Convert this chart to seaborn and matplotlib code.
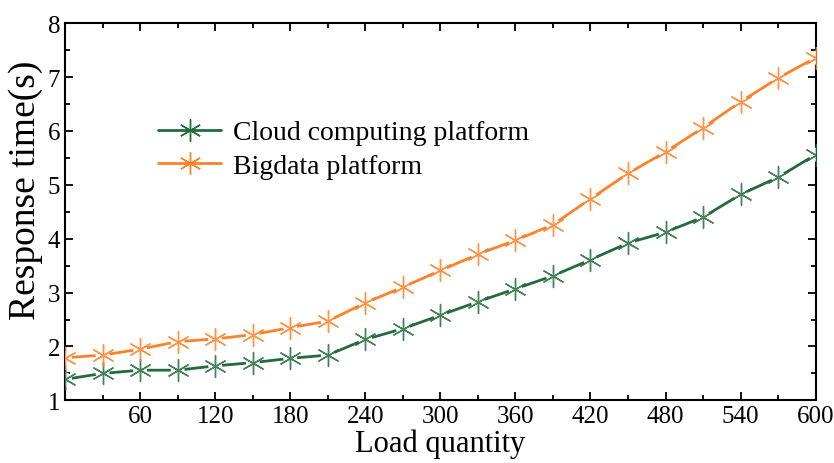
import numpy as np
import pandas as pd
import matplotlib
matplotlib.use("Agg")
import matplotlib.pyplot as plt
from matplotlib.lines import Line2D
import seaborn as sns

load = [0, 30, 60, 90, 120, 150, 180, 210, 240, 270, 300,
        330, 360, 390, 420, 450, 480, 510, 540, 570, 600]
cloud = [1.39, 1.50, 1.56, 1.56, 1.64, 1.70, 1.78, 1.84, 2.13, 2.33, 2.58,
         2.83, 3.07, 3.31, 3.61, 3.92, 4.12, 4.40, 4.82, 5.14, 5.56]
bigdata = [1.79, 1.84, 1.95, 2.09, 2.14, 2.22, 2.35, 2.47, 2.81, 3.10, 3.41,
           3.71, 3.97, 4.26, 4.74, 5.21, 5.61, 6.06, 6.54, 6.98, 7.36]
names = ["Cloud computing platform", "Bigdata platform"]
colors = ["#236b3c", "#ff8128"]

sns.set_theme(style="ticks")
plt.rcParams["font.family"] = ["Liberation Serif", "DejaVu Serif"]
plt.rcParams["text.color"] = "black"
plt.rcParams["axes.labelcolor"] = "black"
plt.rcParams["xtick.color"] = "black"
plt.rcParams["ytick.color"] = "black"

fig, ax = plt.subplots(figsize=(8.34, 4.64), dpi=100)
fig.subplots_adjust(left=0.078, right=0.978, top=0.948, bottom=0.135)

star = (6, 2, 0)
for vals, col in zip([cloud, bigdata], colors):
    d = pd.DataFrame({"load": load, "time": vals})
    sns.lineplot(data=d, x="load", y="time", color=col, linewidth=2.0, ax=ax)
    # small white gap round each marker, as in the original
    sns.scatterplot(data=d, x="load", y="time", marker="o", s=100,
                    color="white", edgecolor="none", zorder=3, ax=ax)
    sns.scatterplot(data=d, x="load", y="time", marker=star, s=250,
                    edgecolor=col, facecolor=col, linewidth=1.0,
                    alpha=0.85, zorder=4, ax=ax)

ax.set_xlim(0, 600)
ax.set_ylim(1, 8)
ax.set_xticks(np.arange(60, 601, 60))
ax.set_xticks(np.arange(30, 601, 30), minor=True)
ax.set_yticks(np.arange(1, 9, 1))
ax.set_yticks(np.arange(1, 8.01, 0.5), minor=True)
ax.tick_params(which="both", direction="in", top=True, right=True,
               labelsize=18, width=1.3, color="black")
ax.tick_params(which="major", length=6)
ax.tick_params(which="minor", length=3.5)
for s in ax.spines.values():
    s.set_linewidth(1.5)
    s.set_color("black")

ax.set_xlabel("Load quantity", fontsize=22, labelpad=1)
ax.set_ylabel("Response time(s)", fontsize=27)
ax.yaxis.set_label_coords(-0.03, 0.56)

handles = [Line2D([], [], color=c, linewidth=2.0, marker=star, markersize=16,
                  markeredgewidth=1.0, markeredgecolor=c) for c in colors]
ax.legend(handles, names, loc="upper left", bbox_to_anchor=(0.09, 0.81),
          frameon=False, fontsize=20, handlelength=2.3, handletextpad=0.4,
          labelspacing=0.3)

fig.savefig("out.png", dpi=100)
